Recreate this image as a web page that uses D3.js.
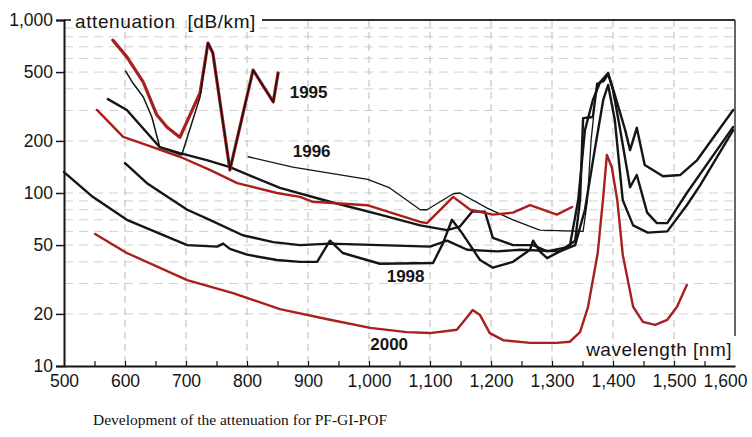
<!DOCTYPE html>
<html>
<head>
<meta charset="utf-8">
<script src="https://cdn.jsdelivr.net/npm/d3@7"></script>
<style>
  body { margin: 0; background: #fff; }
  svg { display: block; }
</style>
</head>
<body>
<script>
// wavelength [nm], attenuation [dB/km]
var xTicks = [500, 600, 700, 800, 900, 1000, 1100, 1200, 1300, 1400, 1500, 1600];
var yTicks = [10, 20, 50, 100, 200, 500, 1000];
var yGrid = [20, 30, 40, 50, 60, 70, 80, 90, 100, 200, 300, 400, 500, 600, 700, 800, 900];

var s1995red = [[580,765],[603,612],[630,438],[652,283],[669,240],[690,210],[723,379],[736,736],[744,645],[772,136],[810,514],[843,336],[851,494]];
var s1995black = [[601,507],[613,432],[630,359],[644,275],[657,184],[693,166],[723,359],[736,736],[744,645],[772,136],[810,514],[843,336],[851,494]];
var s1996 = [[802,162],[875,141],[998,120],[1034,107],[1084,80],[1095,80],[1138,99],[1149,100],[1193,82],[1236,70],[1280,61],[1351,60],[1358,90],[1364,200],[1368,272]];
var sB = [[572,349],[603,302],[657,184],[690,170],[734,155],[772,141],[810,124],[854,107],[936,89],[1018,75],[1084,65],[1128,61],[1149,64],[1169,78],[1190,78],[1203,55],[1236,50],[1269,50],[1292,46],[1329,49],[1343,91],[1354,231],[1367,345],[1379,438],[1392,494],[1403,369],[1420,231],[1428,177],[1439,238],[1452,145],[1482,125],[1510,127],[1538,155],[1597,302]];
var sRed96 = [[554,302],[597,211],[636,189],[690,162],[739,136],[784,114],[849,100],[887,95],[908,89],[997,85],[1084,68],[1095,67],[1138,95],[1166,80],[1203,75],[1236,77],[1264,85],[1308,75],[1333,83]];
var sD = [[600,149],[636,114],[702,80],[739,70],[793,57],[843,52],[887,50],[936,51],[1100,49],[1128,53],[1161,47],[1210,46],[1248,47],[1313,46],[1338,53],[1346,91],[1351,271],[1367,275],[1374,427],[1385,444],[1392,488],[1400,394],[1411,241],[1428,108],[1439,127],[1456,77],[1472,67],[1489,67],[1521,100],[1597,241]];
var s1998 = [[500,132],[547,95],[603,70],[702,50],[751,49],[761,51],[772,47.5],[800,44],[849,41],[887,40],[915,40],[936,53],[957,45],[1018,39],[1105,39.4],[1121,51],[1136,70],[1152,59],[1182,41],[1203,37],[1236,40],[1264,47],[1269,53],[1280,46],[1292,42],[1313,46],[1338,50],[1354,80],[1370,177],[1384,345],[1392,421],[1403,264],[1416,91],[1433,65],[1457,59],[1489,60],[1521,85],[1543,111],[1597,231]];
var s2000 = [[551,58],[603,45],[702,31.4],[777,26.4],[854,21.3],[936,18.5],[1002,16.6],[1062,15.7],[1100,15.5],[1144,16.2],[1161,19.2],[1170,21.1],[1182,19.7],[1198,15.5],[1220,14.1],[1264,13.6],[1308,13.6],[1329,13.8],[1346,15.7],[1359,21.9],[1367,31.4],[1375,45],[1384,95],[1390,166],[1398,141],[1407,91],[1416,44],[1433,22],[1449,18],[1469,17.3],[1489,18.5],[1505,22],[1521,29.4]];

var chart = function() {
  var width = 752, height = 437;
  var pLeft = 64, pRight = 735, pTop = 20, pBottom = 366;
  var black = '#151515', red = '#a8201e';
  var fontSans = 'Liberation Sans, Arial, sans-serif';

  var svg = d3.select('body').append('svg')
    .attr('width', width)
    .attr('height', height);

  var x = d3.scaleLinear().domain([500, 1600]).range([pLeft, pRight]);
  var y = d3.scaleLog().domain([10, 1000]).range([pBottom, pTop]);

  // grid
  svg.append('g').selectAll('line').data(xTicks.slice(1, -1)).enter().append('line')
    .attr('x1', function(d) { return x(d); })
    .attr('x2', function(d) { return x(d); })
    .attr('y1', pTop).attr('y2', pBottom)
    .style('stroke', '#aaa').style('stroke-width', 0.8).style('stroke-dasharray', '7,5');

  svg.append('g').selectAll('line').data(yGrid).enter().append('line')
    .attr('x1', pLeft).attr('x2', pRight)
    .attr('y1', function(d) { return y(d); })
    .attr('y2', function(d) { return y(d); })
    .style('stroke', '#bbb').style('stroke-width', 0.7).style('stroke-dasharray', '9,6');

  // curves
  var line = d3.line()
    .x(function(d) { return x(d[0]); })
    .y(function(d) { return y(d[1]); });

  var drawCurve = function(data, color, w) {
    svg.append('path')
      .datum(data)
      .attr('d', line)
      .style('fill', 'none')
      .style('stroke', color)
      .style('stroke-width', w)
      .style('stroke-linejoin', 'round')
      .style('stroke-linecap', 'round');
  };

  drawCurve(s1998, black, 2.4);
  drawCurve(sD, black, 2.4);
  drawCurve(sB, black, 2.4);
  drawCurve(s1996, black, 1.3);
  drawCurve(sRed96, red, 2.4);
  drawCurve(s2000, red, 2.4);
  drawCurve(s1995red, red, 3.2);
  drawCurve(s1995black, black, 1.5);

  // axes
  var yAxis = svg.append('g')
    .attr('transform', 'translate(' + pLeft + ',0)')
    .call(d3.axisLeft(y).tickValues(yTicks).tickFormat(d3.format(',')).tickSize(8).tickPadding(3));
  yAxis.select('.domain').style('stroke', black).style('stroke-width', 2);
  yAxis.selectAll('.tick line').style('stroke', black).style('stroke-width', 1.5);
  yAxis.selectAll('text').style('font-family', fontSans).style('font-size', '17.5px').style('fill', black);

  var xAxis = svg.append('g')
    .attr('transform', 'translate(0,' + pBottom + ')')
    .call(d3.axisBottom(x).tickValues(xTicks).tickFormat(d3.format(',')).tickSize(0).tickPadding(9));
  xAxis.select('.domain').style('stroke', black).style('stroke-width', 2);
  xAxis.selectAll('text').style('font-family', fontSans).style('font-size', '17.5px').style('fill', black);
  xAxis.selectAll('.tick').filter(function(d) { return d === 1600; })
    .select('text').attr('dx', -10);

  var minor = svg.append('g')
    .attr('transform', 'translate(0,' + pBottom + ')')
    .call(d3.axisTop(x).tickValues(d3.range(550, 1600, 50)).tickFormat('').tickSizeInner(5).tickSizeOuter(0));
  minor.select('.domain').remove();
  minor.selectAll('line').style('stroke', black).style('stroke-width', 1.2);

  // frame
  svg.append('line').attr('x1', pLeft).attr('x2', pLeft + 7).attr('y1', pTop).attr('y2', pTop)
    .style('stroke', black).style('stroke-width', 1.5);
  svg.append('line').attr('x1', 262).attr('x2', pRight).attr('y1', pTop).attr('y2', pTop)
    .style('stroke', '#333').style('stroke-width', 2);
  svg.append('line').attr('x1', pRight).attr('x2', pRight).attr('y1', pTop).attr('y2', 336)
    .style('stroke', '#333').style('stroke-width', 1.5);

  // titles
  svg.append('text')
    .attr('x', 75).attr('y', 28)
    .attr('xml:space', 'preserve')
    .style('font-family', fontSans).style('font-size', '19px').style('letter-spacing', '0.6px')
    .style('fill', black)
    .text('attenuation  [dB/km]');

  svg.append('text')
    .attr('x', 732).attr('y', 356)
    .attr('text-anchor', 'end')
    .style('font-family', fontSans).style('font-size', '19px').style('letter-spacing', '0.5px')
    .style('fill', black)
    .text('wavelength [nm]');

  var yearLabel = function(txt, nm, db) {
    svg.append('text')
      .attr('x', x(nm)).attr('y', y(db))
      .style('font-family', fontSans).style('font-size', '17px').style('font-weight', 'bold')
      .style('fill', black)
      .text(txt);
  };
  yearLabel('1995', 870, 355);
  yearLabel('1996', 875, 162);
  yearLabel('1998', 1029, 30.6);
  yearLabel('2000', 1002, 12.4);

  svg.append('text')
    .attr('x', 93).attr('y', 425)
    .style('font-family', 'Liberation Serif, Times New Roman, serif').style('font-size', '15.5px')
    .style('fill', '#111')
    .text('Development of the attenuation for PF-GI-POF');
};

chart();
</script>
</body>
</html>
